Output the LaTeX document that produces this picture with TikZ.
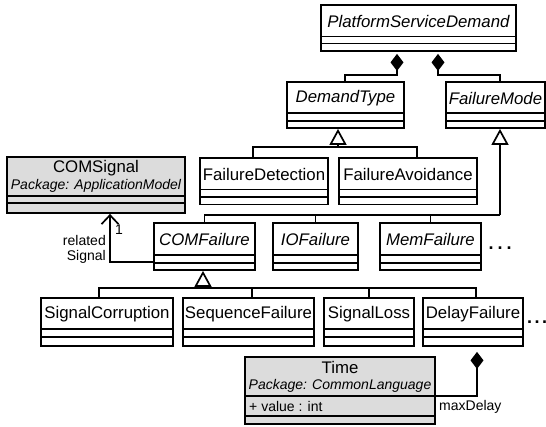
\documentclass[tikz,border=0pt]{standalone}
\usepackage{fontspec}
\setmainfont{Liberation Sans}
\usetikzlibrary{arrows.meta,fit}
\definecolor{umlgray}{HTML}{DCDCDC}
\tikzset{
  cls/.style={draw, line width=1.8pt, inner sep=0pt, fill=white},
  pkgcls/.style={cls, fill=umlgray},
  cline/.style={line width=1.8pt},
  conn/.style={line width=1.7pt},
  gen/.style={conn, -{Triangle[open, length=16pt, width=17pt]}},
  comp/.style={conn, {Diamond[length=17pt, width=13pt]}-},
  nav/.style={conn, -{Straight Barb[length=9pt, width=17pt]}},
  ctitle/.style={font=\fontsize{16.8}{19}\selectfont, inner sep=0pt},
  atitle/.style={font=\fontsize{16.8}{19}\selectfont\itshape, inner sep=0pt},
  pkg/.style={font=\fontsize{14}{16}\selectfont\itshape, inner sep=0pt},
  lbl/.style={font=\fontsize{14}{16}\selectfont, inner sep=0pt},
  dots/.style={font=\fontsize{18}{19}\selectfont\bfseries, inner sep=0pt},
}
% #1 style, #2 name, #3 x1, #4 y1, #5 x2, #6 y2, #7 line1, #8 line2
\newcommand\umlbox[8][cls]{%
  \node[#1, fit={(#3,#4) (#5,#6)}] (#2) {};
  \draw[cline] (#3,#7) -- (#5,#7) (#3,#8) -- (#5,#8);
}
\begin{document}
\begin{tikzpicture}[x=1pt,y=-1pt]
\useasboundingbox (0,0) rectangle (546,426);

% classes
\umlbox{PSD}{321}{5}{516}{51}{36.5}{43.5}
\node[atitle] (PSDt) at (418.5,21) {PlatformServiceDemand};

\umlbox{DT}{287}{82}{404}{128}{113}{121}
\node[atitle] (DTt) at (345.5,98) {DemandType};

\umlbox{FM}{446}{82}{545}{128}{113}{121}
\node[atitle] (FMt) at (495.5,98) {FailureMode};

\umlbox{FD}{200}{158}{328}{204.5}{189.5}{197}
\node[ctitle] (FDt) at (264,174) {FailureDetection};

\umlbox{FA}{339}{158}{477}{204.5}{189.5}{197}
\node[ctitle] (FAt) at (408,174) {FailureAvoidance};

\umlbox[pkgcls]{CS}{7}{157}{185}{213}{196}{203}
\node[ctitle] (CSt) at (96,168.5) {COMSignal};
\node[pkg] (CSp) at (96,186) {Package: ApplicationModel};

\umlbox{CF}{154}{223}{255}{270}{255}{263}
\node[atitle] (CFt) at (204.5,239) {COMFailure};

\umlbox{IOF}{273}{223}{358}{270}{255}{263}
\node[atitle] (IOFt) at (315.5,239) {IOFailure};

\umlbox{MF}{380}{223}{481}{270}{255}{263}
\node[atitle] (MFt) at (430.5,239) {MemFailure};

\node[dots] (d1) at (500,248) {.\hspace{4pt}.\hspace{4pt}.};

\umlbox{SC}{41}{298}{173}{346}{329}{337}
\node[ctitle] (SCt) at (107,314) {SignalCorruption};

\umlbox{SF}{183}{298}{314}{346}{329}{337}
\node[ctitle] (SFt) at (248.5,314) {SequenceFailure};

\umlbox{SL}{324}{298}{414}{346}{329}{337}
\node[ctitle] (SLt) at (369,314) {SignalLoss};

\umlbox{DF}{423}{298}{523}{346}{329}{337}
\node[ctitle] (DFt) at (473,314) {DelayFailure};

\node[dots, anchor=west] (d2) at (527,322) {.\hspace{2.5pt}.\hspace{2.5pt}.};

\umlbox[pkgcls]{TM}{245}{357}{435}{424}{396}{416}
\node[ctitle] (TMt) at (340,367.5) {Time};
\node[pkg] (TMp) at (340,386) {Package: CommonLanguage};
\node[lbl, anchor=west] (TMa) at (249,406) {+ value : int};

% compositions from PlatformServiceDemand
\draw[comp] ([xshift=-21.5pt,yshift=-2pt]PSD.south) |- (345,75) -- (DT.north -| 345,0);
\draw[comp] ([xshift=19.5pt,yshift=-2pt]PSD.south) |- (500,75) -- (FM.north -| 500,0);

% generalization to DemandType
\coordinate (g1) at (338,147);
\draw[conn] ([xshift=-11pt]FD.north) |- ([xshift=9pt]FA.north |- g1) -- ([xshift=9pt]FA.north);
\draw[gen] (g1) -- (g1 |- DT.south);

% generalization to FailureMode
\coordinate (g2) at (500,215);
\draw[conn] (CF.north) |- (g2);
\draw[conn] (IOF.north) -- (IOF.north |- g2);
\draw[conn] (MF.north) -- (MF.north |- g2);
\draw[gen] (g2) -- (g2 |- FM.south);

% generalization to COMFailure
\coordinate (g3) at (203,288);
\draw[conn] ([xshift=-8pt]SC.north) |- ([xshift=3pt]DF.north |- g3) -- ([xshift=3pt]DF.north);
\draw[conn] ([xshift=3.5pt]SF.north) -- ([xshift=3.5pt]SF.north |- g3);
\draw[conn] (SL.north) -- (SL.north |- g3);
\draw[gen] (g3) -- (g3 |- CF.south);

% association COMFailure -> COMSignal
\draw[nav] ([yshift=-15.5pt]CF.west) -| ([xshift=14pt]CS.south);
\node[lbl] (one) at (119,230) {1};
\node[lbl, anchor=east, align=right] (rs) at (106,249.5) {related\\[-1pt]Signal};

% composition DelayFailure -> Time
\draw[comp] ([xshift=4pt,yshift=-5pt]DF.south) |- ([yshift=-5.5pt]TM.east);
\node[lbl, anchor=west] (md) at (439,407) {maxDelay};
\end{tikzpicture}
\end{document}
